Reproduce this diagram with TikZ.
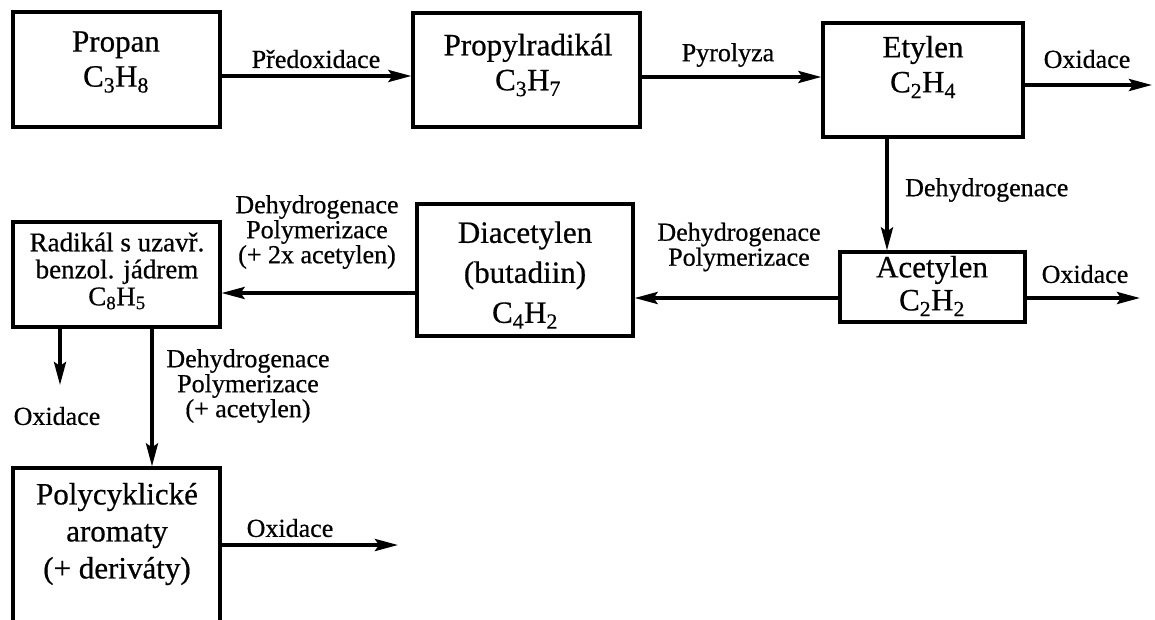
\documentclass[tikz,border=0pt]{standalone}
\usepackage{fontspec}
\setmainfont[FakeBold=0.6]{Liberation Serif}
\usetikzlibrary{arrows.meta}
\begin{document}
\begin{tikzpicture}[x=1pt,y=-1pt,
  box/.style={draw, line width=3.2pt, inner sep=0pt},
  btext/.style={align=center, inner sep=0pt, font=\fontsize{31}{35}\selectfont},
  stext/.style={align=center, inner sep=0pt, font=\fontsize{27}{27}\selectfont},
  lbl/.style={align=center, inner sep=0pt, font=\fontsize{26}{25}\selectfont},
  arr/.style={line width=3.6pt, -{Stealth[length=23pt,width=12pt,inset=4pt]}}]
\useasboundingbox (0,0) rectangle (1155,619);
\clip (0,0) rectangle (1155,619);
% boxes
\node[box, minimum width=207pt, minimum height=115pt] (propan) at (116.5,69.5) {};
\node[box, minimum width=227pt, minimum height=114pt] (propyl) at (526.5,70) {};
\node[box, minimum width=200pt, minimum height=114pt] (etylen) at (923,80) {};
\node[box, minimum width=185pt, minimum height=70pt] (acetylen) at (932.5,287) {};
\node[box, minimum width=216pt, minimum height=132pt] (diacet) at (525,270) {};
\node[box, minimum width=207pt, minimum height=105pt] (radikal) at (116.5,274.5) {};
\node[box, minimum width=207pt, minimum height=204pt] (poly) at (116.5,570) {};
% box texts
\node[btext] (propanT) at (116,62) {Propan\\C\textsubscript{3}H\textsubscript{8}};
\node[btext] (propylT) at (528,65) {Propylradikál\\C\textsubscript{3}H\textsubscript{7}};
\node[btext] (etylenT) at (923,67) {Etylen\\C\textsubscript{2}H\textsubscript{4}};
\node[btext, font=\fontsize{31}{33}\selectfont] (acetylenT) at (932,286) {Acetylen\\C\textsubscript{2}H\textsubscript{2}};
\node[btext, font=\fontsize{31}{40}\selectfont] (diacetT) at (525,275) {Diacetylen\\(butadiin)\\C\textsubscript{4}H\textsubscript{2}};
\node[stext] (radikalT) at (117,271) {Radikál s uzavř.\\benzol. jádrem\\C\textsubscript{8}H\textsubscript{5}};
\node[btext, font=\fontsize{31}{37}\selectfont] (polyT) at (117,534) {Polycyklické\\aromaty\\(+ deriváty)};
% free ends
\coordinate (ox1) at (1152,85);
\coordinate (ox2) at (1140,298);
\coordinate (ox3) at (60,385);
\coordinate (ox4) at (398,545);
% arrows
\draw[arr] (propan.east |- 0,76) -- (propyl.west |- 0,76);
\draw[arr] (propyl.east |- 0,77) -- (etylen.west |- 0,77);
\draw[arr] (etylen.east |- ox1) -- (ox1);
\draw[arr] (etylen.south -| 887,0) -- (acetylen.north -| 887,0);
\draw[arr] (acetylen.east |- ox2) -- (ox2);
\draw[arr] (acetylen.west |- 0,298) -- (diacet.east |- 0,298);
\draw[arr] (diacet.west |- 0,293) -- (radikal.east |- 0,293);
\draw[arr] (radikal.south -| ox3) -- (ox3);
\draw[arr] (radikal.south -| 152,0) -- (poly.north -| 152,0);
\draw[arr] (poly.east |- ox4) -- (ox4);
% labels
\node[lbl] (l1) at (316,59) {Předoxidace};
\node[lbl] (l2) at (728,55) {Pyrolyza};
\node[lbl] (l3) at (1087,59) {Oxidace};
\node[lbl, anchor=west] (l4) at (905,190) {Dehydrogenace};
\node[lbl] (l5) at (1085,274) {Oxidace};
\node[lbl] (l6) at (739,247) {Dehydrogenace\\Polymerizace};
\node[lbl] (l7) at (317,232) {Dehydrogenace\\Polymerizace\\(+ 2x acetylen)};
\node[lbl] (l8) at (57,416) {Oxidace};
\node[lbl] (l9) at (248,386) {Dehydrogenace\\Polymerizace\\(+ acetylen)};
\node[lbl] (l10) at (290,528) {Oxidace};
\end{tikzpicture}
\end{document}
